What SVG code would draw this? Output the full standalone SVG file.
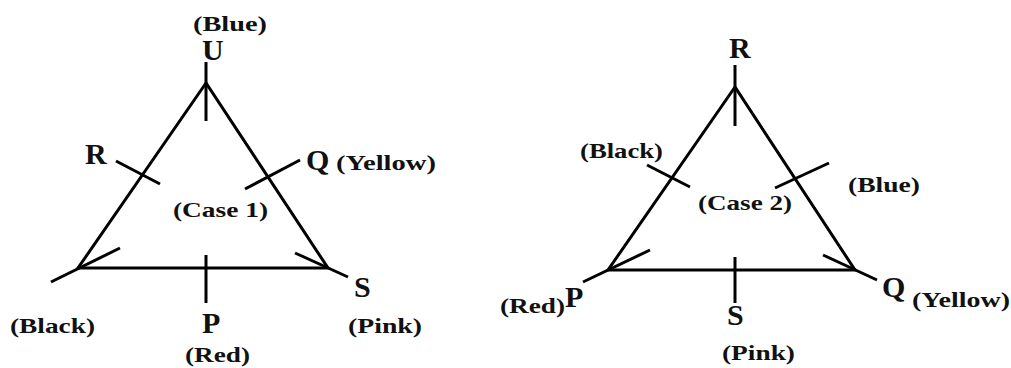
<svg xmlns="http://www.w3.org/2000/svg" width="1011" height="368" viewBox="0 0 1011 368">
<style>
.ln{stroke:#000;stroke-width:3;fill:none;stroke-linecap:butt;stroke-linejoin:miter}
.t{font-family:"Liberation Serif","Times New Roman",serif;font-weight:bold;fill:#111;font-size:22px}
.b{font-family:"Liberation Serif","Times New Roman",serif;font-weight:bold;fill:#111;font-size:30px}
</style>
<rect width="1011" height="368" fill="#fff"/>
<g id="connectors">
<polygon class="ln" points="206,83 78,268 328,268"/>
<line class="ln" x1="206" y1="62" x2="206" y2="121"/>
<line class="ln" x1="51" y1="282" x2="120" y2="248"/>
<line class="ln" x1="295" y1="253" x2="348" y2="277"/>
<line class="ln" x1="206" y1="255" x2="206" y2="303"/>
<line class="ln" x1="116" y1="161" x2="160" y2="184"/>
<line class="ln" x1="245" y1="189" x2="300" y2="160"/>
<polygon class="ln" points="735,87 608,270 855,270"/>
<line class="ln" x1="735" y1="65" x2="735" y2="126"/>
<line class="ln" x1="583" y1="282" x2="650" y2="250"/>
<line class="ln" x1="823" y1="255" x2="877" y2="280"/>
<line class="ln" x1="735" y1="257" x2="735" y2="303"/>
<line class="ln" x1="647" y1="165" x2="690" y2="187"/>
<line class="ln" x1="775" y1="188" x2="829" y2="163"/>
</g>
<g id="case1">
<g id="c1-U"><text class="t" x="193" y="31" textLength="74" lengthAdjust="spacingAndGlyphs">(Blue)</text><text class="b" x="202" y="60">U</text></g>
<g id="c1-R"><text class="b" x="85" y="164">R</text></g>
<g id="c1-Q"><text class="b" x="306" y="170">Q</text><text class="t" x="336" y="170" textLength="100" lengthAdjust="spacingAndGlyphs">(Yellow)</text></g>
<g id="c1-label"><text class="t" x="173" y="217" textLength="95" lengthAdjust="spacingAndGlyphs">(Case 1)</text></g>
<g id="c1-S"><text class="b" x="354" y="297">S</text></g>
<g id="c1-black"><text class="t" x="10" y="333" textLength="85" lengthAdjust="spacingAndGlyphs">(Black)</text></g>
<g id="c1-P"><text class="b" x="202" y="333">P</text><text class="t" x="185" y="362" textLength="65" lengthAdjust="spacingAndGlyphs">(Red)</text></g>
<g id="c1-pink"><text class="t" x="348" y="333" textLength="74" lengthAdjust="spacingAndGlyphs">(Pink)</text></g>
</g>
<g id="case2">
<g id="c2-R"><text class="b" x="729" y="58">R</text></g>
<g id="c2-black"><text class="t" x="580" y="158" textLength="83" lengthAdjust="spacingAndGlyphs">(Black)</text></g>
<g id="c2-blue"><text class="t" x="848" y="192" textLength="72" lengthAdjust="spacingAndGlyphs">(Blue)</text></g>
<g id="c2-label"><text class="t" x="698" y="210" textLength="94" lengthAdjust="spacingAndGlyphs">(Case 2)</text></g>
<g id="c2-P"><text class="t" x="500" y="313" textLength="65" lengthAdjust="spacingAndGlyphs">(Red)</text><text class="b" x="565" y="307">P</text></g>
<g id="c2-S"><text class="b" x="727" y="325">S</text></g>
<g id="c2-Q"><text class="b" x="882" y="297">Q</text><text class="t" x="912" y="307" textLength="98" lengthAdjust="spacingAndGlyphs">(Yellow)</text></g>
<g id="c2-pink"><text class="t" x="722" y="360" textLength="73" lengthAdjust="spacingAndGlyphs">(Pink)</text></g>
</g>
</svg>
